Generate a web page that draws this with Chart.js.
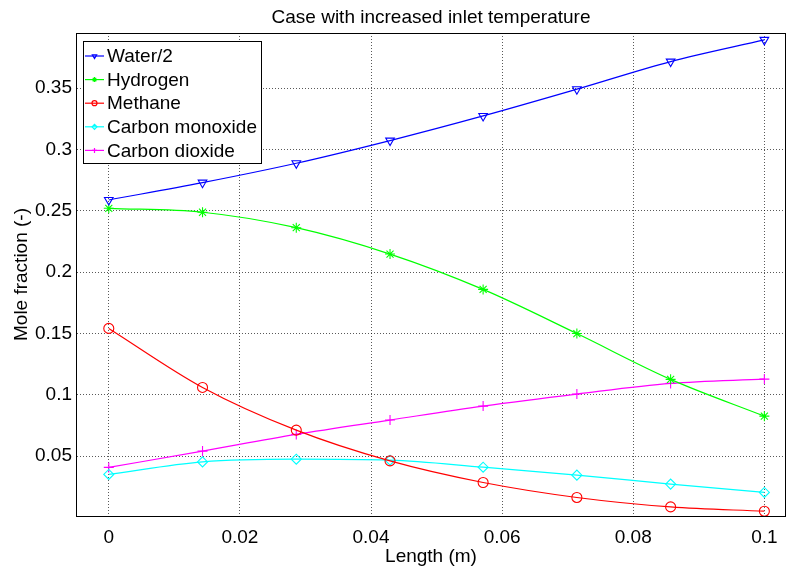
<!DOCTYPE html>
<html>
<head>
<meta charset="utf-8">
<title>Case with increased inlet temperature</title>
<script src="https://cdn.jsdelivr.net/npm/chart.js@4.4.1/dist/chart.umd.min.js"></script>
<style>
    html, body { margin: 0; padding: 0; background: #fff; }
    #wrap { width: 786px; height: 571px; }
</style>
</head>
<body>
<div id="wrap"><canvas id="moleChart" width="786" height="571"></canvas></div>
<script>
// Values
const lengthM = [0, 0.0143, 0.0286, 0.0429, 0.0571, 0.0714, 0.0857, 0.1];
const water2 = [0.2589, 0.2730, 0.2888, 0.3073, 0.3274, 0.3492, 0.3717, 0.3894];
const hydrogen = [0.2521, 0.2489, 0.2363, 0.2148, 0.1860, 0.1500, 0.1127, 0.0827];
const methane = [0.1542, 0.1061, 0.0713, 0.0462, 0.0286, 0.0164, 0.0087, 0.0052];
const carbonMonoxide = [0.0352, 0.0454, 0.0476, 0.0468, 0.0411, 0.0346, 0.0273, 0.0205];
const carbonDioxide = [0.0409, 0.0542, 0.0678, 0.0795, 0.0909, 0.1007, 0.1094, 0.1129];

const seriesNames = ['Water/2', 'Hydrogen', 'Methane', 'Carbon monoxide', 'Carbon dioxide'];
const xTicks = [0, 0.02, 0.04, 0.06, 0.08, 0.1];
const yTicks = [0.05, 0.1, 0.15, 0.2, 0.25, 0.3, 0.35];

const FONT = "'Liberation Sans', Arial, Helvetica, sans-serif";

function makeSeries(label, values, color, pointStyle, rotation) {
    return {
        label: label,
        data: values.map((v, i) => ({ x: lengthM[i], y: v })),
        borderColor: color,
        backgroundColor: color,
        borderWidth: 1.2,
        pointStyle: pointStyle,
        rotation: rotation || 0,
        pointRadius: 5,
        pointBorderWidth: 1.1,
        pointBorderColor: color,
        pointBackgroundColor: 'rgba(0,0,0,0)',
        cubicInterpolationMode: 'monotone',
        fill: false
    };
}

// box around the axes plus a matlab-like legend in the top left corner
const matlabBox = {
    id: 'matlabBox',
    afterDraw(chart) {
        const ctx = chart.ctx;
        const area = chart.chartArea;
        ctx.save();
        ctx.strokeStyle = '#000';
        ctx.lineWidth = 1;
        ctx.strokeRect(Math.round(area.left) + 0.5, Math.round(area.top) + 0.5,
            Math.round(area.right - area.left) - 1, Math.round(area.bottom - area.top));

        // legend
        const lx = 83, ly = 41, lw = 178, lh = 122;
        ctx.fillStyle = '#fff';
        ctx.fillRect(lx, ly, lw, lh);
        ctx.strokeRect(lx + 0.5, ly + 0.5, lw, lh);
        ctx.font = '19px ' + FONT;
        ctx.textBaseline = 'middle';
        chart.data.datasets.forEach((ds, i) => {
            const y = ly + 15 + i * 23.6;
            ctx.strokeStyle = ds.borderColor;
            ctx.lineWidth = 1.2;
            ctx.beginPath();
            ctx.moveTo(85, y);
            ctx.lineTo(104, y);
            ctx.stroke();
            if (Chart.helpers && Chart.helpers.drawPoint) {
                ctx.fillStyle = 'rgba(0,0,0,0)';
                Chart.helpers.drawPoint(ctx, {
                    pointStyle: ds.pointStyle,
                    rotation: ds.rotation,
                    radius: 2.5,
                    borderWidth: 1
                }, 94.5, y);
            }
            ctx.fillStyle = '#000';
            ctx.fillText(ds.label, 107, y + 1);
        });
        ctx.restore();
    }
};

const gridStyle = {
    color: 'rgba(0,0,0,0.65)',
    lineWidth: 1,
    drawTicks: false
};

const chart = new Chart(document.getElementById('moleChart'), {
    type: 'line',
    data: {
        datasets: [
            makeSeries(seriesNames[0], water2, '#0000ff', 'triangle', 180),
            makeSeries(seriesNames[1], hydrogen, '#00ff00', 'star'),
            makeSeries(seriesNames[2], methane, '#ff0000', 'circle'),
            makeSeries(seriesNames[3], carbonMonoxide, '#00ffff', 'rectRot'),
            makeSeries(seriesNames[4], carbonDioxide, '#ff00ff', 'cross')
        ]
    },
    options: {
        responsive: false,
        animation: false,
        layout: { autoPadding: false, padding: 0 },
        plugins: {
            legend: { display: false },
            tooltip: { enabled: false },
            title: {
                display: true,
                fullSize: false,
                text: 'Case with increased inlet temperature',
                color: '#000',
                font: { family: FONT, size: 19, weight: 'normal', lineHeight: 1.2 },
                padding: { top: 6, bottom: 4.2 }
            }
        },
        scales: {
            x: {
                type: 'linear',
                min: -0.005,
                max: 0.1033,
                grid: gridStyle,
                border: { color: '#000', width: 1, dash: [1, 2] },
                ticks: {
                    color: '#000',
                    padding: 10,
                    maxRotation: 0,
                    font: { family: FONT, size: 19 },
                    callback: v => String(v)
                },
                title: {
                    display: true,
                    text: 'Length (m)',
                    color: '#000',
                    font: { family: FONT, size: 19, lineHeight: 1.2 },
                    padding: { top: 0, bottom: 2.6 }
                },
                afterBuildTicks: scale => { scale.ticks = xTicks.map(v => ({ value: v })); },
                afterFit: scale => {
                    scale.height = 55;
                    scale.paddingLeft = 0;
                    scale.paddingRight = 0;
                }
            },
            y: {
                type: 'linear',
                min: 0.0013,
                max: 0.395,
                grid: gridStyle,
                border: { color: '#000', width: 1, dash: [1, 2] },
                ticks: {
                    color: '#000',
                    padding: 4,
                    font: { family: FONT, size: 19 },
                    callback: v => String(v)
                },
                title: {
                    display: true,
                    text: 'Mole fraction (-)',
                    color: '#000',
                    font: { family: FONT, size: 19, lineHeight: 1.2 },
                    padding: { top: 10.6, bottom: 0 }
                },
                afterBuildTicks: scale => { scale.ticks = yTicks.map(v => ({ value: v })); },
                afterFit: scale => {
                    scale.width = 76;
                    scale.paddingTop = 0;
                    scale.paddingBottom = 0;
                }
            }
        }
    },
    plugins: [matlabBox]
});
</script>
</body>
</html>
